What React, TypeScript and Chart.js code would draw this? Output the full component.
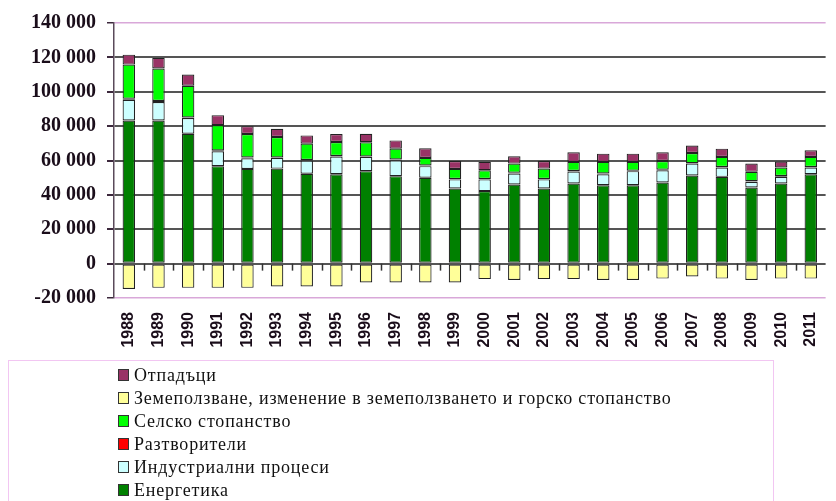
import React, { useEffect, useRef } from "react";
import { Chart, registerables } from "chart.js";

Chart.register(...registerables);

const years = ["1988","1989","1990","1991","1992","1993","1994","1995","1996","1997","1998","1999","2000","2001","2002","2003","2004","2005","2006","2007","2008","2009","2010","2011"];
const energy = [83300, 83300, 75600, 56700, 55100, 55300, 52300, 52000, 53800, 50900, 50000, 43700, 42200, 46000, 43700, 46600, 45600, 45600, 47200, 51300, 50500, 44300, 46600, 52000];
const industrial = [12000, 10700, 9100, 8700, 6200, 6200, 7700, 10300, 8300, 9200, 6700, 5300, 6800, 6400, 5300, 7000, 6400, 8200, 7100, 6900, 5400, 3300, 3900, 3900];
const solvents = [600, 600, 300, 500, 500, 300, 300, 300, 300, 500, 400, 300, 300, 500, 300, 300, 500, 300, 300, 300, 300, 300, 500, 300];
const agriculture = [19900, 18900, 18500, 14700, 13600, 11900, 9500, 8200, 8200, 6300, 4400, 5800, 5000, 5300, 6000, 5300, 6700, 5100, 5100, 5900, 5900, 5500, 4900, 5900];
const lulucf = [-14800, -14100, -14100, -14100, -14100, -13300, -13300, -13300, -11000, -11000, -11000, -11000, -9000, -9500, -9000, -9000, -9500, -9500, -8700, -7500, -8700, -9500, -8700, -8700];
const waste = [5800, 6200, 6500, 5800, 4600, 4800, 4800, 4600, 5000, 4800, 5600, 4600, 4900, 4300, 4400, 5600, 4800, 4800, 5100, 4300, 4800, 4800, 3500, 3800];

const yTicks = [-20000, 0, 20000, 40000, 60000, 80000, 100000, 120000, 140000];

const seriesNames = [
  "Енергетика",
  "Индустриални процеси",
  "Разтворители",
  "Селско стопанство",
  "Земеползване, изменение в земеползването и горско стопанство",
  "Отпадъци",
];
const seriesColors = ["#008000", "#ccffff", "#ff0000", "#00ff00", "#ffff99", "#993366"];

function fmt(v: number): string {
  const s = String(Math.abs(v)).replace(/\B(?=(\d{3})+(?!\d))/g, " ");
  return (v < 0 ? "-" : "") + s;
}

const zeroTicksPlugin = {
  id: "zeroTicks",
  afterDraw(chart: any) {
    const ctx = chart.ctx;
    const x = chart.scales.x;
    const y = chart.scales.y;
    const y0 = y.getPixelForValue(0);
    ctx.save();
    ctx.strokeStyle = "#333333";
    ctx.lineWidth = 1.5;
    for (let i = 1; i < years.length; i++) {
      const px = (x.getPixelForValue(i - 1) + x.getPixelForValue(i)) / 2;
      ctx.beginPath();
      ctx.moveTo(Math.round(px) + 0.5, y0);
      ctx.lineTo(Math.round(px) + 0.5, y0 + 7);
      ctx.stroke();
    }
    ctx.restore();
  },
};

const legendPlugin = {
  id: "boxLegend",
  afterDraw(chart: any) {
    const ctx = chart.ctx;
    ctx.save();
    ctx.strokeStyle = "#f2c6f2";
    ctx.lineWidth = 1;
    ctx.strokeRect(8.5, 360.5, 765, 160);
    const order = [5, 4, 3, 2, 1, 0];
    const rowY = [375, 398, 421, 444, 467, 490];
    ctx.font = "18px 'Liberation Serif'";
    (ctx as any).letterSpacing = "0.8px";
    ctx.textBaseline = "middle";
    order.forEach((di, r) => {
      const ds = chart.data.datasets[di];
      const cy = rowY[r];
      ctx.fillStyle = ds.backgroundColor;
      ctx.fillRect(118, cy - 6, 11, 12);
      ctx.strokeStyle = "#333333";
      ctx.lineWidth = 1;
      ctx.strokeRect(118.5, cy - 5.5, 10, 11);
      ctx.fillStyle = "#111111";
      ctx.fillText(ds.label, 134, cy + 1);
    });
    ctx.restore();
  },
};

export default function App() {
  const ref = useRef<HTMLCanvasElement | null>(null);
  useEffect(() => {
    if (!ref.current) return;
    const series = [energy, industrial, solvents, agriculture, lulucf, waste];
    const chart = new Chart(ref.current, {
      type: "bar",
      data: {
        labels: years,
        datasets: series.map((d, i) => ({
          label: seriesNames[i],
          data: d,
          backgroundColor: seriesColors[i],
          borderColor: "#222222",
          borderWidth: 1.2,
          borderSkipped: false,
          categoryPercentage: 1,
          barPercentage: 0.42,
        })),
      },
      options: {
        animation: false,
        responsive: false,
        devicePixelRatio: 1,
        layout: { padding: { top: 22, left: 0, right: 0, bottom: 151 } },
        plugins: { legend: { display: false }, tooltip: { enabled: false } },
        scales: {
          x: {
            stacked: true,
            grid: { display: false, drawTicks: false },
            border: { display: false },
            ticks: {
              autoSkip: false,
              minRotation: 90,
              maxRotation: 90,
              padding: 14,
              color: "#1a0d1a",
              font: { family: "'Liberation Sans'", size: 16, weight: "bold" },
            },
            afterFit(scale: any) {
              scale.height = 52;
            },
          },
          y: {
            stacked: true,
            min: -20000,
            max: 140000,
            afterBuildTicks(scale: any) {
              scale.ticks = yTicks.map((v) => ({ value: v }));
            },
            afterFit(scale: any) {
              scale.width = 114;
            },
            grid: {
              color: (c: any) =>
                c.tick && (c.tick.value === 140000 || c.tick.value === -20000) ? "#d9a8d9" : "#555555",
              lineWidth: (c: any) =>
                c.tick && (c.tick.value === 140000 || c.tick.value === -20000) ? 1.5 : 2,
              tickColor: "#3c283c",
              tickLength: 7,
              drawTicks: true,
            },
            border: { display: true, color: "#5a4a5a", width: 1.5 },
            ticks: {
              padding: 11,
              color: "#1a0d1a",
              font: { family: "'Liberation Serif'", size: 20, weight: "bold" },
              callback: (v: any) => fmt(Number(v)),
            },
          },
        },
      },
      plugins: [zeroTicksPlugin, legendPlugin],
    });
    return () => chart.destroy();
  }, []);
  return (
    <div style={{ position: "fixed", left: 0, top: 0, width: 836, height: 501, overflow: "hidden", background: "#ffffff" }}>
      <canvas ref={ref} width={844} height={501} style={{ width: 844, height: 501, display: "block" }} />
    </div>
  );
}
